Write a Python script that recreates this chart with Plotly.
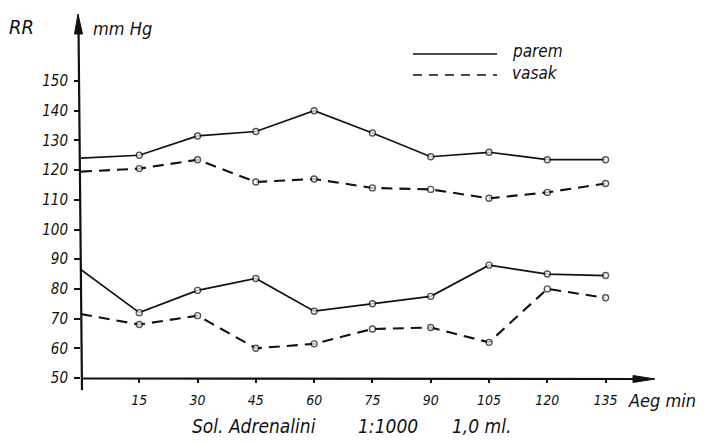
import plotly.graph_objects as go

# ---- data ----
minutes = [0, 15, 30, 45, 60, 75, 90, 105, 120, 135]
x_ticks = [15, 30, 45, 60, 75, 90, 105, 120, 135]
y_ticks = [50, 60, 70, 80, 90, 100, 110, 120, 130, 140, 150]

sys_parem = [124, 125, 131.5, 133, 140, 132.5, 124.5, 126, 123.5, 123.5]
sys_vasak = [119.5, 120.5, 123.5, 116, 117, 114, 113.5, 110.5, 112.5, 115.5]
dia_parem = [86.5, 72, 79.5, 83.5, 72.5, 75, 77.5, 88, 85, 84.5]
dia_vasak = [71.5, 68, 71, 60, 61.5, 66.5, 67, 62, 80, 77]

W, H = 706, 443
L, R, T, B = 81, 53, 15, 65
PW, PH = W - L - R, H - T - B
XMAX = 147.2
YMIN, YMAX = 50, 50 + PH / 2.97

FONT = "DejaVu Sans Condensed, Liberation Sans Narrow, Liberation Sans, sans-serif"
INK = "#111111"


def px(xp):
    return (xp - L) / PW


def py(yp):
    return (H - B - yp) / PH


fig = go.Figure()

msize = [0] + [6] * (len(minutes) - 1)
for vals, dash, w in [
    (sys_parem, "solid", 1.7),
    (sys_vasak, "11px,7px", 2.1),
    (dia_parem, "solid", 1.7),
    (dia_vasak, "11px,7px", 2.1),
]:
    fig.add_trace(go.Scatter(
        x=minutes, y=vals, mode="lines+markers",
        line=dict(color=INK, width=w, dash=dash),
        marker=dict(symbol="circle", size=msize, color="white",
                    line=dict(color=INK, width=1.4)),
        cliponaxis=False, showlegend=False, hoverinfo="skip",
    ))

shapes = []
# y axis line (slightly slanted as in the drawing)
shapes.append(dict(type="line", xref="paper", yref="paper",
                   x0=px(82), y0=py(390), x1=px(78.5), y1=py(25),
                   line=dict(color=INK, width=2.2)))
# y arrow head
shapes.append(dict(type="path", xref="paper", yref="paper",
                   path=f"M{px(74.5)},{py(34)} L{px(82.5)},{py(34)} L{px(78)},{py(14)} Z",
                   fillcolor=INK, line=dict(color=INK, width=1)))
# x axis line
shapes.append(dict(type="line", xref="paper", yref="paper",
                   x0=px(81), y0=py(378.5), x1=px(640), y1=py(379),
                   line=dict(color=INK, width=2.2)))
# x arrow head
shapes.append(dict(type="path", xref="paper", yref="paper",
                   path=f"M{px(633)},{py(375.5)} L{px(633)},{py(382.5)} L{px(655)},{py(379)} Z",
                   fillcolor=INK, line=dict(color=INK, width=1)))
# legend lines
shapes.append(dict(type="line", xref="paper", yref="paper",
                   x0=px(413), y0=py(54), x1=px(497), y1=py(54),
                   line=dict(color=INK, width=1.6)))
shapes.append(dict(type="line", xref="paper", yref="paper",
                   x0=px(413), y0=py(75), x1=px(497), y1=py(75),
                   line=dict(color=INK, width=1.6, dash="9px,7px")))

ann = []


def text(t, xp, yp, size, xanchor="left"):
    ann.append(dict(text=t, xref="paper", yref="paper", x=px(xp), y=py(yp),
                    xanchor=xanchor, yanchor="middle", showarrow=False,
                    font=dict(family=FONT, size=size, color=INK, style="italic")))


text("RR", 7, 27, 20)
text("mm Hg", 91, 28, 18)
text("parem", 510, 51, 17)
text("vasak", 510, 73, 17)
text("Aeg min", 626, 400, 18)
text("Sol. Adrenalini", 190, 426, 19)
text("1:1000", 356, 426, 19)
text("1,0 ml.", 450, 426, 19)

fig.update_layout(
    width=W, height=H,
    margin=dict(l=L, r=R, t=T, b=B),
    paper_bgcolor="white", plot_bgcolor="white",
    shapes=shapes, annotations=ann,
    xaxis=dict(range=[0, XMAX], showgrid=False, zeroline=False, showline=False,
               tickmode="array", tickvals=x_ticks, ticktext=[str(v) for v in x_ticks],
               ticks="outside", ticklen=4, tickwidth=1.5, tickcolor=INK,
               ticklabelstandoff=5,
               tickfont=dict(family=FONT, size=14, color=INK, style="italic")),
    yaxis=dict(range=[YMIN, YMAX], showgrid=False, zeroline=False, showline=False,
               tickmode="array", tickvals=y_ticks, ticktext=[str(v) for v in y_ticks],
               ticks="outside", ticklen=6, tickwidth=1.5, tickcolor=INK,
               ticklabelstandoff=3,
               tickfont=dict(family=FONT, size=15, color=INK, style="italic")),
)

fig.write_html("out.html")
